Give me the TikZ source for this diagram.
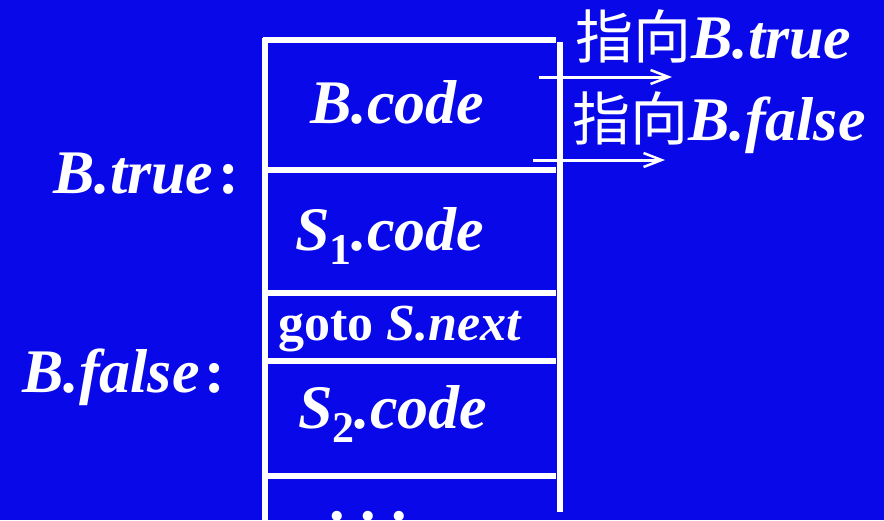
\documentclass[tikz,border=0pt]{standalone}
\usepackage{fontspec}
\setmainfont{Liberation Serif}
\newfontfamily\cjk{Noto Sans CJK SC}
\usetikzlibrary{arrows.meta}
\definecolor{bgblue}{RGB}{8,8,232}
\newcommand{\fsz}[1]{\fontsize{#1}{#1}\selectfont}
\begin{document}
\begin{tikzpicture}[x=1pt,y=-1pt,
  boxline/.style={draw=white,line width=5.5pt},
  ptr/.style={draw=white,line width=3pt,-{Straight Barb[length=18pt,width=14pt,line width=2.5pt]}},
  lbl/.style={text=white,inner sep=0pt,anchor=base west,font=\fsz{62}\bfseries}]
\fill[bgblue] (0,0) rectangle (884,520);
\useasboundingbox (0,0) rectangle (884,520);
% box lines
\draw[boxline] (265,38) -- (265,522);
\draw[boxline] (560,42) -- (560,512);
\foreach \yy in {40,170,293,361,476}
  \draw[boxline] (263,\yy) -- (556,\yy);
% contents
\node[lbl] (bcode) at (310,123) {\itshape B.code};
\node[lbl] (s1code) at (295,250) {\itshape S\raisebox{-14pt}{\fsz{44}\upshape 1}.code};
\node[lbl,font=\fsz{52}\bfseries] (gotonext) at (278,340) {goto \itshape S.next};
\node[lbl] (s2code) at (298,428) {\itshape S\raisebox{-14pt}{\fsz{44}\upshape 2}.code};
\node[lbl] (dots) at (329,520) {.\ .\ .};
% labels left
\node[lbl] (btrue) at (53,193) {\itshape B.true\upshape\kern5pt:};
\node[lbl] (bfalse) at (22,392) {\itshape B.false\upshape\kern5pt:};
% arrows
\coordinate (a1s) at (539,77);
\coordinate (a1e) at (672,77);
\coordinate (a2s) at (533,160);
\coordinate (a2e) at (665,160);
\draw[ptr] (a1s) -- (a1e);
\draw[ptr] (a2s) -- (a2e);
\node[lbl] (ttrue) at (575,58) {{\cjk\mdseries\fsz{58}指向}\itshape B.true};
\node[lbl] (tfalse) at (572,140) {{\cjk\mdseries\fsz{58}指向}\itshape B.false};
\end{tikzpicture}
\end{document}
